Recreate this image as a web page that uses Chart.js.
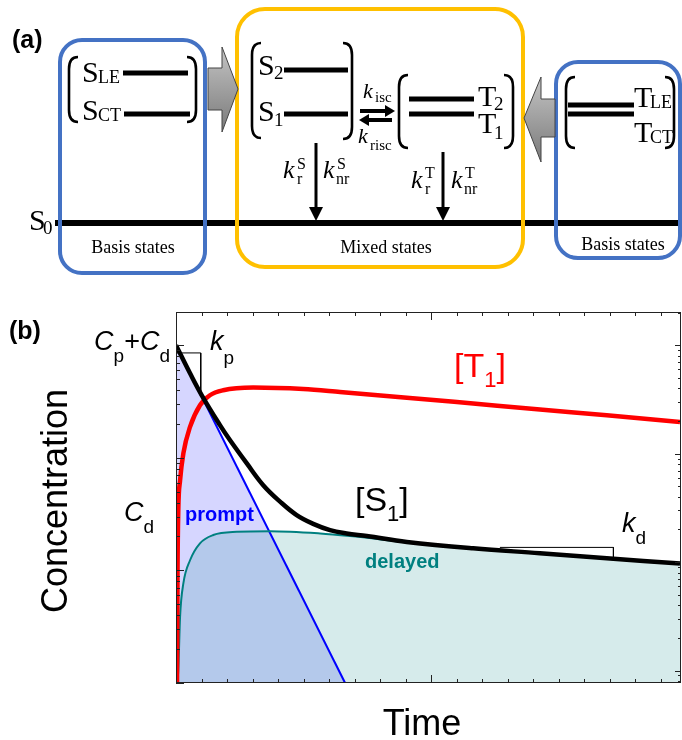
<!DOCTYPE html>
<html>
<head>
<meta charset="utf-8">
<script src="https://cdn.jsdelivr.net/npm/chart.js@4.4.0/dist/chart.umd.min.js"></script>
<style>
  html, body { margin: 0; padding: 0; background: #fff; }
  #wrap { position: relative; width: 682px; height: 740px; overflow: hidden; }
  #c { position: absolute; left: 0; top: 0; }
  #diagram { position: absolute; left: 0; top: 0; }
</style>
</head>
<body>
<div id="wrap">
  <canvas id="c" width="682" height="740"></canvas>
  <svg id="diagram" width="682" height="300"></svg>
</div>
<script>
// ---- data (time in arbitrary units, concentration on a log axis)
const timeS1   = [0, 0.055, 0.101, 0.173, 0.212, 0.277, 0.342, 0.408, 0.473, 0.538, 0.604, 0.669, 0.748, 0.905, 1.165, 1.427, 1.689, 1.976];
const s1Values = [1000, 563, 359, 194, 143, 89.5, 57.1, 40.8, 31.0, 25.9, 22.8, 21.3, 20.2, 17.9, 15.7, 14.2, 12.8, 11.5];

const timeT1   = [0.004, 0.006, 0.009, 0.016, 0.029, 0.055, 0.094, 0.133, 0.185, 0.303, 0.499, 0.643, 0.905, 1.165, 1.427, 1.689, 1.976];
const t1Values = [1, 10, 34, 63, 110, 188, 293, 359, 398, 421, 408, 384, 342, 303, 268, 239, 208];

const timePrompt   = [0, 0.663];
const promptValues = [1000, 1];

const timeDelayed   = [0.005, 0.009, 0.016, 0.029, 0.055, 0.094, 0.146, 0.238, 0.369, 0.565, 0.682, 0.905, 1.165, 1.427, 1.689, 1.976];
const delayedValues = [1, 1.3, 3.9, 7.7, 12.3, 17.4, 20.6, 22.0, 22.3, 21.3, 20.2, 17.8, 15.6, 14.1, 12.7, 11.4];

// slope markers
const kpTime = [0, 0.097, 0.097];
const kpValues = [853, 853, 360];
const kdTime = [1.27, 1.715, 1.715];
const kdValues = [16.0, 16.0, 12.7];

const pts = (xs, ys) => xs.map((x, i) => ({ x: x, y: ys[i] }));

const SANS = '"Liberation Sans", Arial, sans-serif';

// ---- part (a): level diagram
(function buildDiagram() {
  const svg = document.getElementById('diagram');
  const bracket = (x, y1, y2, dir) => {
    const c = 9 * dir;
    return `<path d="M${x + c} ${y1} Q${x} ${y1} ${x} ${y1 + 12} L${x} ${y2 - 12} Q${x} ${y2} ${x + c} ${y2}" fill="none" stroke="#000" stroke-width="2.6"/>`;
  };
  const level = (x1, x2, y) => `<line x1="${x1}" y1="${y}" x2="${x2}" y2="${y}" stroke="#000" stroke-width="5"/>`;
  const t = (x, y, s, size, extra) => `<text x="${x}" y="${y}" font-size="${size}" ${extra || ''}>${s}</text>`;
  const it = 'font-style="italic"';
  let h = '';
  h += `<defs><linearGradient id="gr" x1="0" y1="0" x2="0" y2="1"><stop offset="0" stop-color="#c4c4c4"/><stop offset="1" stop-color="#7a7a7a"/></linearGradient></defs>`;
  h += `<g font-family="'Liberation Serif', 'Times New Roman', serif" fill="#000">`;
  // ground state
  h += `<line x1="55" y1="223" x2="682" y2="223" stroke="#000" stroke-width="6"/>`;
  h += t(29, 230, 'S', 30) + t(43, 234, '0', 19);
  // boxes
  h += `<rect x="60" y="40" width="145" height="233" rx="22" fill="none" stroke="#4472C4" stroke-width="4"/>`;
  h += `<rect x="237" y="9" width="286" height="258" rx="28" fill="none" stroke="#FFC000" stroke-width="4"/>`;
  h += `<rect x="556" y="62" width="124" height="196" rx="22" fill="none" stroke="#4472C4" stroke-width="4"/>`;
  // gray arrows
  h += `<polygon points="208,68 222,68 222,47 238,89 222,132 222,110 208,110" fill="url(#gr)" stroke="#444" stroke-width="1"/>`;
  h += `<polygon points="555,99 541,99 541,77 524,118 541,162 541,137 555,137" fill="url(#gr)" stroke="#444" stroke-width="1"/>`;
  // basis singlets
  h += bracket(69, 57, 122, 1) + bracket(196, 57, 122, -1);
  h += t(82, 82, 'S', 30) + t(98, 83, 'LE', 18);
  h += t(82, 120, 'S', 30) + t(98, 121, 'CT', 18);
  h += level(123, 188, 73) + level(124, 190, 114);
  // mixed singlets
  h += bracket(252, 43, 138, 1) + bracket(352, 43, 139, -1);
  h += t(258, 75, 'S', 30) + t(274, 79, '2', 19);
  h += t(258, 121, 'S', 30) + t(274, 126, '1', 19);
  h += level(284, 348, 70) + level(284, 348, 114);
  // isc / risc arrows
  h += `<line x1="360" y1="111" x2="387" y2="111" stroke="#000" stroke-width="4"/><polygon points="385,105 395,111 385,117" fill="#000"/>`;
  h += `<line x1="367" y1="120" x2="392" y2="120" stroke="#000" stroke-width="4"/><polygon points="369,114 359,120 369,126" fill="#000"/>`;
  h += t(363, 98, 'k', 22, it) + t(375, 102, 'isc', 15);
  h += t(358, 143, 'k', 22, it) + t(370, 150, 'risc', 15);
  // mixed triplets
  h += bracket(399, 75, 148, 1) + bracket(513, 75, 148, -1);
  h += level(409, 474, 99) + level(409, 474, 114);
  h += t(478, 106, 'T', 30) + t(494, 110, '2', 19);
  h += t(478, 133, 'T', 30) + t(494, 139, '1', 19);
  // decay arrows
  h += `<line x1="316" y1="143" x2="316" y2="208" stroke="#000" stroke-width="3"/><polygon points="309,207 323,207 316,221" fill="#000"/>`;
  h += `<line x1="443" y1="152" x2="443" y2="208" stroke="#000" stroke-width="3"/><polygon points="436,207 450,207 443,221" fill="#000"/>`;
  h += t(283, 178, 'k', 26, it) + t(297, 169, 'S', 16) + t(297, 184, 'r', 16);
  h += t(323, 178, 'k', 26, it) + t(337, 169, 'S', 16) + t(336, 184, 'nr', 16);
  h += t(411, 188, 'k', 26, it) + t(425, 178, 'T', 16) + t(425, 194, 'r', 16);
  h += t(451, 188, 'k', 26, it) + t(465, 178, 'T', 16) + t(464, 194, 'nr', 16);
  // basis triplets
  h += bracket(566, 77, 148, 1) + bracket(674, 77, 148, -1);
  h += level(568, 634, 105) + level(568, 634, 114);
  h += t(634, 107, 'T', 30) + t(650, 108, 'LE', 18);
  h += t(634, 142, 'T', 30) + t(650, 143, 'CT', 18);
  // captions
  h += t(133, 253, 'Basis states', 18, 'text-anchor="middle"');
  h += t(386, 253, 'Mixed states', 18, 'text-anchor="middle"');
  h += t(623, 250, 'Basis states', 18, 'text-anchor="middle"');
  h += `</g>`;
  h += `<text x="12" y="48" font-family='${SANS}' font-weight="bold" font-size="25">(a)</text>`;
  svg.innerHTML = h;
})();

// ---- part (b): frame, inward ticks and annotations
function rich(ctx, x, y, parts, align) {
  let w = 0;
  parts.forEach(p => { ctx.font = p[1]; w += ctx.measureText(p[0]).width; });
  let cx = align === 'right' ? x - w : x;
  parts.forEach(p => {
    ctx.font = p[1];
    ctx.fillText(p[0], cx, y + (p[2] || 0));
    cx += ctx.measureText(p[0]).width;
  });
}

function logTicks(scale) {
  const out = [];
  const lo = Math.floor(Math.log10(scale.min)), hi = Math.ceil(Math.log10(scale.max));
  for (let d = lo; d <= hi; d++) {
    for (let m = 1; m <= 9; m++) {
      const v = m * Math.pow(10, d);
      if (v >= scale.min && v <= scale.max) out.push({ v: v, major: m === 1 });
    }
  }
  return out;
}

const framePlugin = {
  id: 'frame',
  afterDatasetsDraw(chart) {
    const { ctx, chartArea: a, scales } = chart;
    ctx.save();
    ctx.strokeStyle = '#222';
    ctx.lineWidth = 1;
    ctx.strokeRect(a.left + 0.5, a.top + 0.5, a.right - a.left - 1, a.bottom - a.top - 1);
    ctx.beginPath();
    for (let i = 0; i <= 20; i++) {
      const v = i / 10;
      if (v > scales.x.max) break;
      const px = Math.round(scales.x.getPixelForValue(v)) + 0.5;
      const len = i % 10 === 0 ? 8 : 4;
      ctx.moveTo(px, a.bottom); ctx.lineTo(px, a.bottom - len);
      ctx.moveTo(px, a.top); ctx.lineTo(px, a.top + len);
    }
    logTicks(scales.y).forEach(t => {
      const py = Math.round(scales.y.getPixelForValue(t.v)) + 0.5;
      ctx.moveTo(a.left, py); ctx.lineTo(a.left + (t.major ? 8 : 4), py);
    });
    logTicks(scales.y2).forEach(t => {
      const py = Math.round(scales.y2.getPixelForValue(t.v)) + 0.5;
      ctx.moveTo(a.right, py); ctx.lineTo(a.right - (t.major ? 6 : 3), py);
    });
    ctx.stroke();
    ctx.restore();
  },
  afterDraw(chart) {
    const ctx = chart.ctx;
    ctx.save();
    ctx.textBaseline = 'alphabetic';
    ctx.fillStyle = '#000';
    ctx.font = 'bold 25px ' + SANS;
    ctx.fillText('(b)', 9, 339);
    const I27 = 'italic 27px ' + SANS, R19 = '19px ' + SANS;
    rich(ctx, 170, 350, [['C', I27], ['p', R19, 12], ['+', '27px ' + SANS], ['C', I27], ['d', R19, 12]], 'right');
    rich(ctx, 210, 350, [['k', I27], ['p', R19, 14]]);
    rich(ctx, 124, 521, [['C', I27], ['d', R19, 12]]);
    rich(ctx, 622, 532, [['k', I27], ['d', R19, 12]]);
    const R34 = '34px ' + SANS, R22 = '22px ' + SANS;
    ctx.fillStyle = '#ff0000';
    rich(ctx, 454, 377, [['[T', R34], ['1', R22, 10], [']', R34]]);
    ctx.fillStyle = '#000';
    rich(ctx, 355, 511, [['[S', R34], ['1', R22, 10], [']', R34]]);
    ctx.font = 'bold 20px ' + SANS;
    ctx.fillStyle = '#0000ff';
    ctx.fillText('prompt', 185, 521);
    ctx.fillStyle = '#008080';
    ctx.fillText('delayed', 365, 568);
    // axis titles
    ctx.fillStyle = '#000';
    ctx.font = '36px ' + SANS;
    ctx.textAlign = 'center';
    ctx.fillText('Time', 422, 735);
    ctx.translate(57, 501);
    ctx.rotate(-Math.PI / 2);
    ctx.textBaseline = 'middle';
    ctx.fillText('Concentration', 0, 0);
    ctx.restore();
  }
};

const hiddenAxis = (extra) => Object.assign({
  display: true,
  grid: { display: false, drawTicks: false },
  border: { display: false },
  ticks: { display: false }
}, extra);

new Chart(document.getElementById('c'), {
  type: 'line',
  data: {
    datasets: [
      { label: '[S1]', data: pts(timeS1, s1Values), borderColor: '#000000', borderWidth: 4.5, fill: false, tension: 0.4 },
      { label: '[T1]', data: pts(timeT1, t1Values), borderColor: '#ff0000', borderWidth: 4.5, fill: false, cubicInterpolationMode: 'monotone' },
      { label: 'kp', data: pts(kpTime, kpValues), borderColor: '#000000', borderWidth: 1, fill: false, tension: 0 },
      { label: 'kd', data: pts(kdTime, kdValues), borderColor: '#000000', borderWidth: 1, fill: false, tension: 0 },
      { label: 'delayed', data: pts(timeDelayed, delayedValues), borderColor: '#008080', borderWidth: 2, fill: 'start', backgroundColor: 'rgba(0,128,128,0.16)', cubicInterpolationMode: 'monotone' },
      { label: 'prompt', data: pts(timePrompt, promptValues), borderColor: '#0000ff', borderWidth: 2, fill: 'start', backgroundColor: 'rgba(0,0,255,0.16)', tension: 0 }
    ]
  },
  options: {
    responsive: false,
    animation: false,
    devicePixelRatio: 1,
    layout: { padding: { left: 176, top: 312, right: 1, bottom: 57 } },
    elements: { point: { radius: 0, hoverRadius: 0 } },
    plugins: {
      legend: { display: false },
      tooltip: { enabled: false },
      filler: { drawTime: 'beforeDatasetsDraw' }
    },
    scales: {
      x: hiddenAxis({ type: 'linear', min: 0, max: 1.98, afterFit(s) { s.height = 0; } }),
      y: hiddenAxis({ type: 'logarithmic', min: 1, max: 1970, afterFit(s) { s.width = 0; } }),
      y2: hiddenAxis({ type: 'logarithmic', position: 'right', min: 0.0767, max: 203, afterFit(s) { s.width = 0; } })
    }
  },
  plugins: [framePlugin]
});
</script>
</body>
</html>
